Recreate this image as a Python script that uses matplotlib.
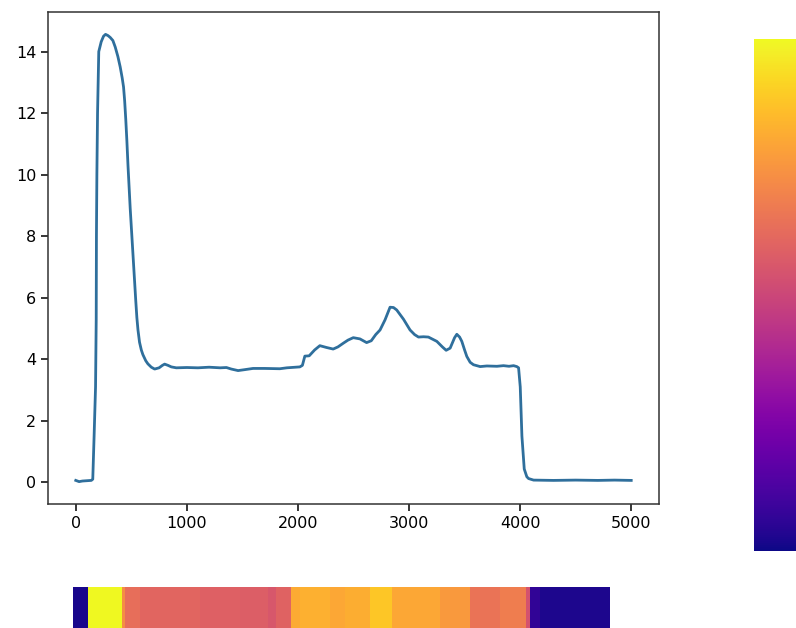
import matplotlib
matplotlib.use("Agg")
import matplotlib.pyplot as plt
import numpy as np

# profile
profile_x = [0, 30, 60, 100, 140, 153, 165, 178, 184, 186, 190, 196, 207, 229, 250, 268,
             290, 310, 334, 355, 379, 400, 418, 430, 440, 450, 460, 470, 480, 490, 500,
             510, 520, 530, 540, 550, 560, 574, 590, 604, 630, 649, 680, 710, 750, 780,
             800, 830, 860, 905,
             1000, 1100, 1200, 1300, 1356, 1400, 1461, 1520, 1596, 1700, 1837, 1900,
             2017, 2040, 2062, 2101, 2150, 2197, 2258, 2317, 2360, 2408, 2450, 2498,
             2558, 2618, 2660, 2700, 2739, 2784, 2829, 2860, 2889, 2950, 3009, 3050,
             3085, 3130, 3174, 3250, 3300, 3334, 3370, 3410, 3430, 3455, 3475, 3500,
             3520, 3550, 3580, 3640, 3700, 3791, 3850, 3900, 3941, 3970, 3986, 4001,
             4016, 4037, 4060, 4076, 4121, 4300, 4500, 4700, 4850, 5000]
profile_y = [0.06, 0.02, 0.04, 0.05, 0.06, 0.1, 1.5, 3.1, 5.3, 8.0, 10.0, 12.0, 14.0,
             14.32, 14.5, 14.56, 14.52, 14.46, 14.36, 14.15, 13.84, 13.5, 13.14, 12.85,
             12.4, 11.8, 11.1, 10.3, 9.6, 8.9, 8.3, 7.7, 7.1, 6.5, 5.9, 5.35, 4.95,
             4.55, 4.3, 4.15, 3.95, 3.85, 3.74, 3.68, 3.72, 3.8, 3.84, 3.8, 3.75, 3.72,
             3.73, 3.72, 3.74,
             3.72, 3.73, 3.68, 3.63, 3.66, 3.7, 3.7, 3.69, 3.72, 3.75, 3.8, 4.1, 4.11,
             4.3, 4.44, 4.38, 4.33, 4.4, 4.52, 4.62, 4.7, 4.66, 4.54, 4.6, 4.8, 4.95,
             5.28, 5.69, 5.68, 5.6, 5.3, 4.95, 4.8, 4.72, 4.73, 4.72, 4.58, 4.4, 4.29,
             4.36, 4.7, 4.81, 4.72, 4.58, 4.3, 4.09, 3.9, 3.82, 3.76, 3.78, 3.77, 3.79,
             3.77, 3.79, 3.76, 3.72, 3.1, 1.5, 0.43, 0.18, 0.12, 0.07, 0.06, 0.07,
             0.06, 0.07, 0.06]

# colour strip underneath, as runs of (columns, level)
strip_widths = [15, 34, 3, 15, 60, 40, 28, 8, 15, 9, 30, 15, 25, 22, 48, 30, 30, 26, 4, 10, 70]
strip_levels = [0.1, 6.5, 4.6, 4.0, 3.8, 3.7, 3.65, 3.5, 3.75, 5.1, 5.2, 5.05, 5.15, 5.55,
                5.05, 4.8, 4.1, 4.3, 3.4, 0.4, 0.15]

W, H = 796, 628
fig = plt.figure(figsize=(W / 100, H / 100), dpi=100)

ax = fig.add_axes([48 / W, 1 - 504 / H, (659 - 48) / W, (504 - 12) / H])
ax.plot(profile_x, profile_y, color='#2f6f9c', lw=2)
ax.tick_params(labelsize=11.5, length=5, width=1.1)
for s in ax.spines.values():
    s.set_linewidth(1.1)
    s.set_color('#333333')

strip = np.repeat(strip_levels, strip_widths)[np.newaxis, :]
strip = np.repeat(strip, 2, axis=0)
sax = fig.add_axes([73 / W, 1 - 645 / H, (610 - 73) / W, (645 - 587) / H])
im = sax.imshow(strip, cmap='plasma', vmin=0, vmax=6.3, aspect='auto',
                interpolation='bilinear')
sax.axis('off')

# colourbar runs off the right edge, so its labels are not shown
cax = fig.add_axes([754 / W, 1 - 551 / H, 60 / W, (551 - 39) / H])
cbar = fig.colorbar(im, cax=cax)
cbar.outline.set_visible(False)
cax.set_yticks([])

fig.savefig('out.png', dpi=100)
